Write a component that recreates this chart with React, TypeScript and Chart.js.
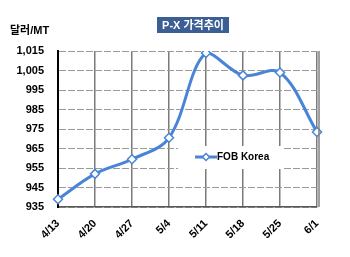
import React, { useEffect, useRef } from "react";
import { Chart, registerables } from "chart.js";

Chart.register(...registerables);

const categories = ["4/13", "4/20", "4/27", "5/4", "5/11", "5/18", "5/25", "6/1"];
const fobKorea = [939, 952, 959.5, 970.5, 1014, 1002.5, 1004, 973.5];
const seriesName = "FOB Korea";
const chartTitle = "P-X 가격추이";
const unitLabel = "달러/MT";
const yMin = 935;
const yMax = 1015;
const yStep = 10;

const FONT = "Arial, 'Liberation Sans', 'Noto Sans CJK KR', sans-serif";
const LINE_BLUE = "#4a84d6";

const decorPlugin = {
  id: "decor",
  afterDraw(chart: any) {
    const ctx = chart.ctx;
    const area = chart.chartArea;
    ctx.save();
    // title box
    ctx.fillStyle = "#3b5f94";
    ctx.fillRect(157, 17, 72, 16);
    ctx.fillStyle = "#ffffff";
    ctx.font = `bold 11px ${FONT}`;
    ctx.textAlign = "center";
    ctx.textBaseline = "middle";
    ctx.fillText(chartTitle, 193, 25.5);
    // unit label
    ctx.fillStyle = "#000000";
    ctx.font = `bold 11px ${FONT}`;
    ctx.textAlign = "left";
    ctx.fillText(unitLabel, 10, 31);
    // right border
    ctx.strokeStyle = "#808080";
    ctx.lineWidth = 1.5;
    ctx.beginPath();
    ctx.moveTo(area.right + 2, area.top);
    ctx.lineTo(area.right + 2, area.bottom);
    ctx.stroke();
    // legend box
    ctx.fillStyle = "#ffffff";
    ctx.fillRect(178, 146, 104, 23);
    const ly = 157;
    ctx.strokeStyle = LINE_BLUE;
    ctx.lineWidth = 3;
    ctx.beginPath();
    ctx.moveTo(195, ly);
    ctx.lineTo(217, ly);
    ctx.stroke();
    ctx.fillStyle = "#ffffff";
    ctx.lineWidth = 1.5;
    ctx.beginPath();
    ctx.moveTo(206, ly - 3.5);
    ctx.lineTo(209.5, ly);
    ctx.lineTo(206, ly + 3.5);
    ctx.lineTo(202.5, ly);
    ctx.closePath();
    ctx.fill();
    ctx.stroke();
    ctx.fillStyle = "#000000";
    ctx.font = `bold 10px ${FONT}`;
    ctx.textAlign = "left";
    ctx.textBaseline = "middle";
    ctx.fillText(seriesName, 217, ly + 0.5);
    ctx.restore();
  },
};

export default function App() {
  const ref = useRef<HTMLCanvasElement | null>(null);

  useEffect(() => {
    document.body.style.margin = "0";
    if (!ref.current) return;
    const chart = new Chart(ref.current, {
      type: "line",
      data: {
        labels: categories,
        datasets: [
          {
            label: seriesName,
            data: fobKorea,
            borderColor: LINE_BLUE,
            borderWidth: 3,
            tension: 0.35,
            pointStyle: "rectRot",
            pointRadius: 4.5,
            pointBackgroundColor: "#ffffff",
            pointBorderColor: LINE_BLUE,
            pointBorderWidth: 1.5,
            fill: false,
          },
        ],
      },
      options: {
        responsive: false,
        animation: false,
        devicePixelRatio: 1,
        layout: { padding: { top: 51, right: 33, left: 0, bottom: 0 } },
        plugins: {
          legend: { display: false },
          title: { display: false },
          tooltip: { enabled: false },
        },
        scales: {
          x: {
            offset: false,
            afterFit(scale: any) {
              scale.height = 50;
            },
            grid: {
              color: "#7a7a7a",
              lineWidth: 1.5,
              drawTicks: false,
            },
            border: { color: "#595959", width: 1.5 },
            ticks: {
              minRotation: 45,
              maxRotation: 45,
              padding: 10,
              color: "#000000",
              font: { family: FONT, size: 11, weight: "bold" },
            },
          },
          y: {
            min: yMin,
            max: yMax,
            afterFit(scale: any) {
              scale.width = 58;
            },
            grid: {
              color: "#9a9a9a",
              lineWidth: 1,
              drawTicks: false,
            },
            border: { color: "#000000", width: 2, dash: [7, 2] },
            ticks: {
              stepSize: yStep,
              padding: 14,
              color: "#000000",
              font: { family: FONT, size: 11, weight: "bold" },
              callback: (v: any) => Number(v).toLocaleString("en-US"),
            },
          },
        },
      },
      plugins: [decorPlugin],
    } as any);
    return () => chart.destroy();
  }, []);

  return (
    <div style={{ position: "absolute", left: 0, top: 0, width: 350, height: 257 }}>
      <canvas ref={ref} width={350} height={257} style={{ width: 350, height: 257 }} />
    </div>
  );
}
